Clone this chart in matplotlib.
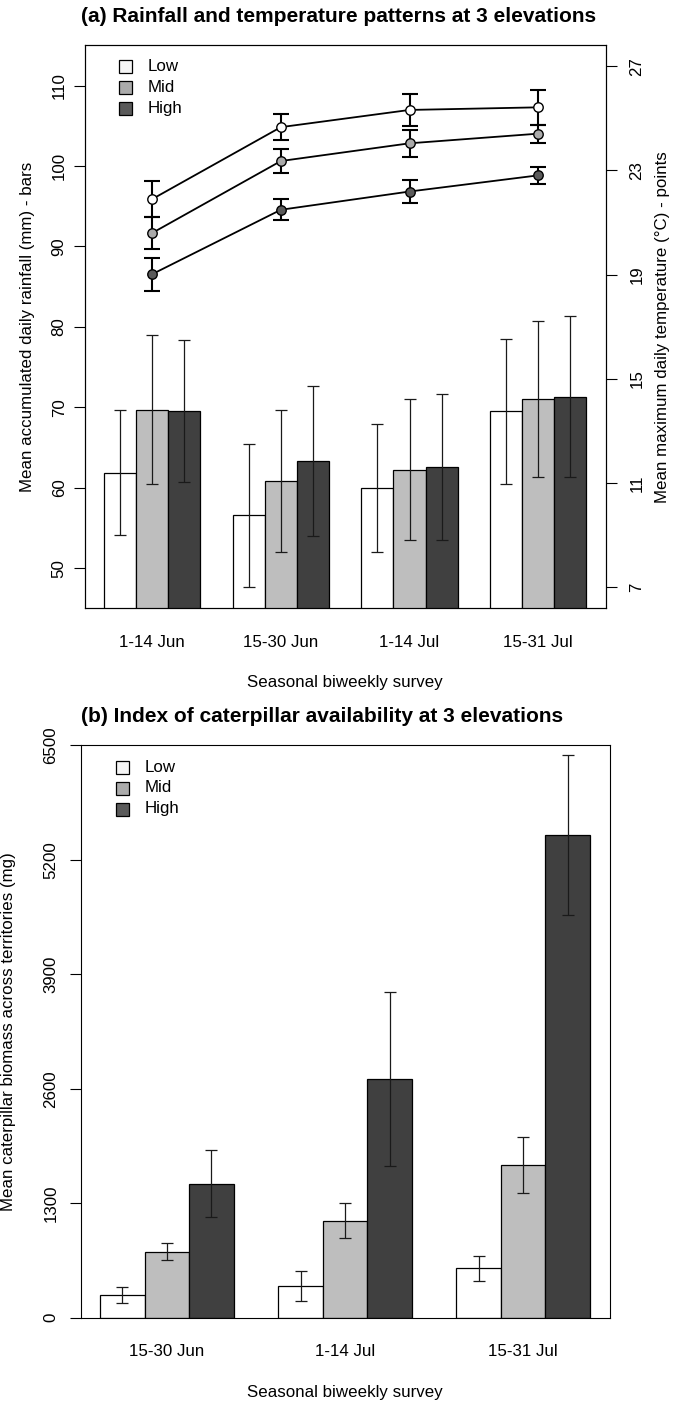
import matplotlib
matplotlib.use("Agg")
import matplotlib.pyplot as plt
from matplotlib.patches import Rectangle
import numpy as np

plt.rcParams['font.family'] = ['Liberation Sans', 'DejaVu Sans']

# ---------------- data ----------------
levels = ["Low", "Mid", "High"]
periods_a = ["1-14 Jun", "15-30 Jun", "1-14 Jul", "15-31 Jul"]
periods_b = ["15-30 Jun", "1-14 Jul", "15-31 Jul"]

rain_low = [61.85, 56.55, 59.95, 69.5]
rain_mid = [69.7, 60.85, 62.25, 71.0]
rain_high = [69.55, 63.35, 62.6, 71.3]
rain_low_se = [7.75, 8.85, 7.95, 9.0]
rain_mid_se = [9.3, 8.85, 8.75, 9.7]
rain_high_se = [8.85, 9.35, 9.1, 10.0]

temp_low = [21.9, 24.66, 25.32, 25.42]
temp_mid = [20.6, 23.36, 24.04, 24.41]
temp_high = [19.02, 21.49, 22.19, 22.81]
temp_low_se = [0.68, 0.51, 0.61, 0.67]
temp_mid_se = [0.61, 0.47, 0.52, 0.34]
temp_high_se = [0.63, 0.41, 0.44, 0.33]

cat_low = [258, 356, 561]
cat_mid = [750, 1099, 1733]
cat_high = [1520, 2712, 5484]
cat_low_se = [91, 170, 144]
cat_mid_se = [95, 199, 320]
cat_high_se = [382, 988, 910]

rain_ticks = [50, 60, 70, 80, 90, 100, 110]
temp_ticks = [7, 11, 15, 19, 23, 27]
cat_ticks = [0, 1300, 2600, 3900, 5200, 6500]

bar_cols = ["white", "#bebebe", "#404040"]
pt_cols = ["white", "#aaaaaa", "#5a5a5a"]
leg_cols = ["#f5f5f5", "#ababab", "#5a5a5a"]

# ---------------- layout helpers ----------------
W, H = 678, 1403
fig = plt.figure(figsize=(W / 100, H / 100), dpi=100)


def rect(left, top, right, bottom):
    return [left / W, (H - bottom) / H, (right - left) / W, (bottom - top) / H]


FS = 12.2
TFS = 15.0


def group_pos(ngroups):
    # R barplot beside=TRUE, space=c(0,1): bar j of group g centred at 1.5+4g+j
    return [[1.5 + 4 * g + j for g in range(ngroups)] for j in range(3)]


def draw_legend(ax, top_px, left_px, ax_rect_px):
    l, t, r, b = ax_rect_px
    for i, (lab, col) in enumerate(zip(levels, leg_cols)):
        yc = top_px + 21 * i
        x0 = (left_px - l) / (r - l)
        y0 = 1 - (yc + 6.5 - t) / (b - t)
        ax.add_patch(Rectangle((x0, y0), 13 / (r - l), 13 / (b - t),
                               transform=ax.transAxes, facecolor=col,
                               edgecolor="black", lw=0.9, clip_on=False, zorder=5))
        ax.text((left_px + 29 - l) / (r - l), 1 - (yc - t) / (b - t), lab,
                transform=ax.transAxes, ha="left", va="center", fontsize=FS, zorder=5)


def style_axes(ax):
    for s in ax.spines.values():
        s.set_linewidth(0.8)
        s.set_color("black")


# ---------------- panel (a) ----------------
ra = (84.7, 45.3, 605.7, 608.3)
ax = fig.add_axes(rect(*ra))
style_axes(ax)
pos = group_pos(4)
rains = [rain_low, rain_mid, rain_high]
rain_se = [rain_low_se, rain_mid_se, rain_high_se]
for j in range(3):
    ax.bar(pos[j], rains[j], width=1.0, color=bar_cols[j], edgecolor="black",
           linewidth=0.9, zorder=2)
    ax.errorbar(pos[j], rains[j], yerr=rain_se[j], fmt="none", ecolor="#1a1a1a",
                elinewidth=0.9, capsize=4.2, capthick=0.9, zorder=3)
ax.set_xlim(0.4, 16.6)
ax.set_ylim(45, 115)
ax.set_yticks(rain_ticks)
ax.set_xticks(pos[1])
ax.set_xticklabels(periods_a, fontsize=FS)
ax.tick_params(axis="x", length=0, pad=19)
ax.tick_params(axis="y", length=8, width=0.8, pad=5, labelsize=FS, labelrotation=90)
for t in ax.get_yticklabels():
    t.set_va("center")
ax.set_ylabel("Mean accumulated daily rainfall (mm) - bars", fontsize=FS)
ax.yaxis.set_label_coords((27.7 - ra[0]) / (ra[2] - ra[0]), 0.5)
ax.yaxis.label.set_va("center")
ax.set_xlabel("Seasonal biweekly survey", fontsize=FS)
ax.xaxis.set_label_coords(0.5, 1 - (682.7 - ra[1]) / (ra[3] - ra[1]))
ax.xaxis.label.set_va("center")
draw_legend(ax, 66.7, 119, ra)

ax2 = ax.twinx()
style_axes(ax2)
temps = [temp_low, temp_mid, temp_high]
temp_se = [temp_low_se, temp_mid_se, temp_high_se]
for j in range(3):
    ax2.errorbar(pos[1], temps[j], yerr=temp_se[j], fmt="-", color="black",
                 ecolor="black", elinewidth=1.5, capsize=5.5, capthick=1.5,
                 lw=1.3, zorder=3)
    ax2.plot(pos[1], temps[j], "o", ms=6.8, mfc=pt_cols[j], mec="black",
             mew=1.0, zorder=4)
ax2.set_ylim(6.2, 27.8)
ax2.set_yticks(temp_ticks)
ax2.tick_params(axis="y", length=8, width=0.8, pad=9, labelsize=FS, labelrotation=90)
for t in ax2.get_yticklabels():
    t.set_va("center")
ax2.set_ylabel("Mean maximum daily temperature (\u00b0C) - points", fontsize=FS)
ax2.yaxis.set_label_coords((662.7 - ra[0]) / (ra[2] - ra[0]), 0.5)
ax2.yaxis.label.set_va("center")
ax2.yaxis.label.set_rotation(90)

fig.text(81 / W, 1 - 16.7 / H, "(a) Rainfall and temperature patterns at 3 elevations",
         ha="left", va="center", fontsize=TFS, fontweight="bold")

# ---------------- panel (b) ----------------
rb = (80.5, 745.3, 609.6, 1317.7)
bx = fig.add_axes(rect(*rb))
style_axes(bx)
posb = group_pos(3)
cats = [cat_low, cat_mid, cat_high]
cat_se = [cat_low_se, cat_mid_se, cat_high_se]
for j in range(3):
    bx.bar(posb[j], cats[j], width=1.0, color=bar_cols[j], edgecolor="black",
           linewidth=0.9, zorder=2)
    bx.errorbar(posb[j], cats[j], yerr=cat_se[j], fmt="none", ecolor="#1a1a1a",
                elinewidth=0.9, capsize=4.2, capthick=0.9, zorder=3)
bx.set_xlim(0.56, 12.44)
bx.set_ylim(0, 6500)
bx.set_yticks(cat_ticks)
bx.set_xticks(posb[1])
bx.set_xticklabels(periods_b, fontsize=FS)
bx.tick_params(axis="x", length=0, pad=19)
bx.tick_params(axis="y", length=8, width=0.8, pad=8, labelsize=FS, labelrotation=90)
for t in bx.get_yticklabels():
    t.set_va("center")
bx.set_ylabel("Mean caterpillar biomass across territories (mg)", fontsize=FS)
bx.yaxis.set_label_coords((9.0 - rb[0]) / (rb[2] - rb[0]), 0.5)
bx.yaxis.label.set_va("center")
bx.set_xlabel("Seasonal biweekly survey", fontsize=FS)
bx.xaxis.set_label_coords(0.5, 1 - (1392.3 - rb[1]) / (rb[3] - rb[1]))
bx.xaxis.label.set_va("center")
draw_legend(bx, 767, 115.5, rb)

fig.text(81 / W, 1 - 716.7 / H, "(b) Index of caterpillar availability at 3 elevations",
         ha="left", va="center", fontsize=TFS, fontweight="bold")

fig.savefig("out.png", dpi=100)
